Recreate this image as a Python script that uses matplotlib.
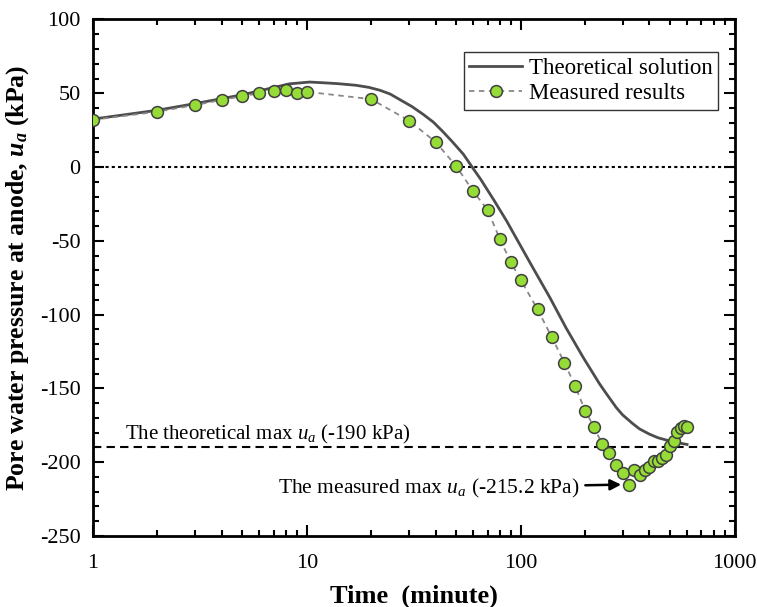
import numpy as np
import matplotlib
matplotlib.use("Agg")
import matplotlib.pyplot as plt
from matplotlib.ticker import FixedLocator, NullFormatter, MultipleLocator

plt.rcParams['font.family'] = ['Liberation Serif', 'DejaVu Serif']
plt.rcParams['axes.unicode_minus'] = False
plt.rcParams['mathtext.fontset'] = 'custom'
plt.rcParams['mathtext.rm'] = 'Liberation Serif'
plt.rcParams['mathtext.it'] = 'Liberation Serif:italic'
plt.rcParams['mathtext.bf'] = 'Liberation Serif:bold'
plt.rcParams['mathtext.bfit'] = 'Liberation Serif:italic:bold'

# theoretical solution
t_theory = [1, 2, 3, 5, 8.3, 10.3, 12, 14, 17, 19.5, 22, 24.5, 27, 31, 35, 39,
            43, 48, 54, 60, 65, 75, 86, 99, 114, 137, 163, 196, 234, 250, 280,
            300, 335, 360, 400, 440, 480, 530, 600]
u_theory = [32.5, 38.5, 43, 49, 56.4, 57.6, 57.1, 56.5, 55.4, 54, 52, 49.5, 46,
            41, 35.7, 30.5, 24.4, 17, 8.6, -1.1, -8.3, -22.5, -36.6, -52.4,
            -68.2, -88.5, -109, -129, -147, -153, -163, -168, -174, -177.5,
            -181, -183.5, -185, -186.5, -188]

# measured results
t_meas = [1, 2, 3, 4, 5, 6, 7, 8, 9, 10, 20, 30, 40, 50, 60, 70, 80, 90, 100,
          120, 140, 160, 180, 200, 220, 240, 260, 280, 300, 320, 340, 360, 380,
          400, 420, 440, 460, 480, 500, 520, 540, 560, 580, 600]
u_meas = [32, 37.5, 42, 45.5, 48, 50, 51.5, 52.5, 50.5, 51, 46, 31.5, 17, 0.5,
          -16.5, -29, -49, -64.5, -76.5, -96.5, -115.5, -132.5, -148.5, -165,
          -176, -187.5, -194, -202, -207, -215.2, -205.5, -209, -205.5, -203.5,
          -199.5, -199, -197, -195, -189, -185.5, -179.5, -176.5, -175.5, -176]

u_theory_max = -190
u_meas_max = -215.2

fig = plt.figure(figsize=(7.57, 6.07), dpi=100)
ax = fig.add_axes([0.1229, 0.117, 0.8474, 0.8509])

ax.axhline(0, color='black', ls=(0, (1.5, 1.5)), lw=1.5, zorder=1)
ax.axhline(u_theory_max, color='black', ls=(0, (4, 2.5)), lw=1.5, zorder=1)

ax.plot(t_theory, u_theory, color='#4d4d4d', lw=2, zorder=2,
        label='Theoretical solution')
ax.plot(t_meas, u_meas, color='#888888', ls=(0, (3, 2.5)), lw=1.3,
        marker='o', ms=8.5, mfc='#96dc36', mec='#404040', mew=1.1, zorder=3,
        label='Measured results')

ax.set_xscale('log')
ax.set_xlim(1, 1000)
ax.set_ylim(-250, 100)
ax.xaxis.set_major_locator(FixedLocator([1, 10, 100, 1000]))
ax.set_xticklabels(['1', '10', '100', '1000'])
ax.xaxis.set_minor_locator(FixedLocator(
    [m * 10 ** d for d in range(3) for m in range(2, 10)]))
ax.xaxis.set_minor_formatter(NullFormatter())
ax.yaxis.set_major_locator(MultipleLocator(50))
ax.yaxis.set_minor_locator(MultipleLocator(10))

ax.tick_params(which='both', direction='in', top=True, right=True,
               labelsize=16, width=1.5)
ax.tick_params(which='major', length=8, pad=9)
ax.tick_params(axis='x', which='major', pad=13)
ax.tick_params(which='minor', length=4.5)
for s in ax.spines.values():
    s.set_linewidth(2)

ax.set_xlabel('Time  (minute)', fontsize=19, fontweight='bold', labelpad=8)
ax.set_ylabel(r'Pore water pressure at anode, $\mathbfit{u_a}$ (kPa)',
              fontsize=18.5, fontweight='bold', labelpad=6)

ax.text(1.41, -181, r'The theoretical max $\mathit{u_a}$ (-190 kPa)',
        fontsize=15, va='center', ha='left')
ax.annotate(r'The measured max $\mathit{u_a}$ (-215.2 kPa)',
            xy=(295, u_meas_max), xytext=(189, -217.5),
            fontsize=15.5, va='center', ha='right',
            arrowprops=dict(arrowstyle='-|>', color='black', lw=1.8,
                            mutation_scale=16, shrinkA=2, shrinkB=0))

leg = ax.legend(loc='upper right', bbox_to_anchor=(0.975, 0.937), fontsize=16.5,
                frameon=True, fancybox=False, edgecolor='black',
                borderpad=0.25, handlelength=2.3, handletextpad=0.3,
                labelspacing=0.2, borderaxespad=0)
leg.get_frame().set_linewidth(1.0)

fig.savefig('out.png', dpi=100)
